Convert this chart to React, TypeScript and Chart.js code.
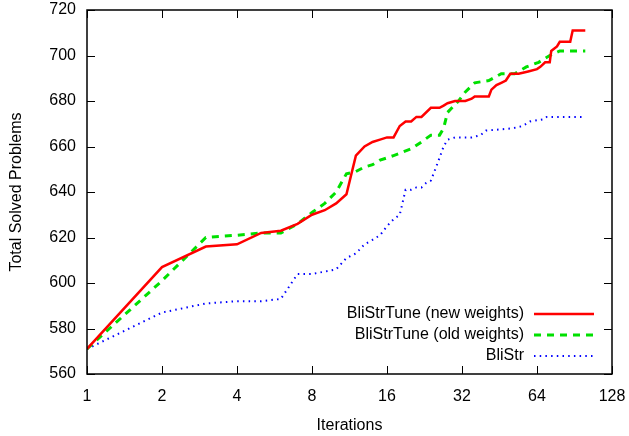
import React, { useEffect, useRef } from "react";
import { Chart, registerables } from "chart.js";

Chart.register(...registerables);

const xTickValues = [1, 2, 4, 8, 16, 32, 64, 128];
const yTickStep = 20;

const seriesNames = ["BliStrTune (new weights)", "BliStrTune (old weights)", "BliStr"];

const newX = [1, 2, 3, 4, 5, 6, 7, 8, 9, 10, 11, 12, 13, 14, 15, 16, 17, 18, 19, 20, 21, 22, 24, 26, 27, 28, 30, 33, 35, 36, 41, 42, 44, 46, 48, 50, 54, 59, 64, 66, 69, 72, 73, 77, 79, 87, 89, 100];
const newY = [571, 607, 616, 617, 622, 623, 626, 630, 632, 635, 639, 656, 660, 662, 663, 664, 664, 669, 671, 671, 673, 673, 677, 677, 678, 679, 680, 680, 681, 682, 682, 685, 687, 688, 689, 692, 692, 693, 694, 695, 697, 697, 702, 704, 706, 706, 711, 711];

const oldX = [1, 2, 3, 4, 5, 6, 7, 8, 9, 10, 11, 12, 13, 14, 15, 16, 17, 18, 20, 22, 24, 26, 27, 28, 31, 33, 36, 41, 46, 52, 58, 65, 72, 79, 100];
const oldY = [571, 601, 620, 621, 622, 622, 626, 631, 635, 640, 648, 649, 651, 652, 654, 655, 656, 657, 659, 662, 665, 665, 668, 675, 680, 684, 688, 689, 692, 692, 695, 697, 700, 702, 702];

const bliX = [1, 2, 3, 4, 5, 6, 7, 8, 9, 10, 11, 12, 13, 14, 15, 16, 17, 18, 19, 20, 21, 22, 23, 24, 25, 26, 27, 28, 30, 35, 38, 40, 51, 56, 60, 68, 70, 100];
const bliY = [571, 587, 591, 592, 592, 593, 604, 604, 605, 606, 611, 613, 617, 619, 621, 625, 628, 630, 641, 641, 642, 642, 644, 645, 650, 655, 660, 663, 664, 664, 665, 667, 668, 669, 671, 672, 673, 673];

const FONT = "'Liberation Sans', Arial, Helvetica, sans-serif";

function pts(xs: number[], ys: number[]) {
  return xs.map((x, i) => ({ x, y: ys[i] }));
}

const frameAndLegend = {
  id: "frameAndLegend",
  afterDraw(chart: any) {
    const { ctx, chartArea: a } = chart;
    const xs = chart.scales.x;
    const ys = chart.scales.y;
    ctx.save();
    ctx.strokeStyle = "#000";
    ctx.lineWidth = 1;
    const tl = 8;
    ctx.beginPath();
    xTickValues.forEach((v) => {
      const px = Math.round(xs.getPixelForValue(v)) + 0.5;
      ctx.moveTo(px, a.bottom);
      ctx.lineTo(px, a.bottom - tl);
      ctx.moveTo(px, a.top);
      ctx.lineTo(px, a.top + tl);
    });
    for (let v = ys.min; v <= ys.max; v += yTickStep) {
      const py = Math.round(ys.getPixelForValue(v)) + 0.5;
      ctx.moveTo(a.left, py);
      ctx.lineTo(a.left + tl, py);
      ctx.moveTo(a.right, py);
      ctx.lineTo(a.right - tl, py);
    }
    ctx.stroke();
    ctx.lineWidth = 1.5;
    ctx.strokeRect(a.left, a.top, a.right - a.left, a.bottom - a.top);

    // gnuplot-style key: text left, sample right
    const textRight = 524;
    const sx0 = 534;
    const sx1 = 594;
    const rowY = [314, 335, 356];
    ctx.font = `16px ${FONT}`;
    ctx.fillStyle = "#000";
    ctx.textAlign = "right";
    ctx.textBaseline = "middle";
    chart.data.datasets.forEach((ds: any, i: number) => {
      ctx.fillText(ds.label, textRight, rowY[i]);
      ctx.beginPath();
      ctx.strokeStyle = ds.borderColor;
      ctx.lineWidth = ds.borderWidth;
      ctx.setLineDash(ds.borderDash || []);
      ctx.moveTo(sx0, rowY[i]);
      ctx.lineTo(sx1, rowY[i]);
      ctx.stroke();
      ctx.setLineDash([]);
    });
    ctx.restore();
  },
};

export default function App() {
  const ref = useRef<HTMLCanvasElement | null>(null);
  useEffect(() => {
    if (!ref.current) return;
    const chart = new Chart(ref.current, {
      type: "line",
      data: {
        datasets: [
          {
            label: seriesNames[0],
            data: pts(newX, newY),
            borderColor: "#ff0000",
            borderWidth: 2.5,
            pointRadius: 0,
            tension: 0,
          },
          {
            label: seriesNames[1],
            data: pts(oldX, oldY),
            borderColor: "#00e000",
            borderWidth: 3,
            borderDash: [7, 6],
            pointRadius: 0,
            tension: 0,
          },
          {
            label: seriesNames[2],
            data: pts(bliX, bliY),
            borderColor: "#0000ff",
            borderWidth: 2,
            borderDash: [1.5, 4.2],
            pointRadius: 0,
            tension: 0,
          },
        ] as any,
      },
      options: {
        animation: false,
        responsive: false,
        layout: { padding: { top: 10, right: 17, left: 0, bottom: 0 } },
        plugins: { legend: { display: false }, tooltip: { enabled: false } },
        scales: {
          x: {
            type: "logarithmic",
            min: 1,
            max: 128,
            grid: { display: false, drawTicks: false },
            border: { display: false },
            afterBuildTicks: (scale: any) => {
              scale.ticks = xTickValues.map((v) => ({ value: v }));
            },
            afterFit: (scale: any) => {
              scale.height = 62;
              scale.paddingLeft = 0;
              scale.paddingRight = 0;
            },
            ticks: {
              color: "#000",
              font: { family: FONT, size: 16 },
              padding: 13,
              autoSkip: false,
              maxRotation: 0,
              callback: (v: any) => String(v),
            },
            title: {
              display: true,
              text: "Iterations",
              color: "#000",
              font: { family: FONT, size: 16 },
              padding: { top: 0, bottom: 1 },
            },
          },
          y: {
            type: "linear",
            min: 560,
            max: 720,
            grid: { display: false, drawTicks: false },
            border: { display: false },
            afterFit: (scale: any) => {
              scale.width = 87;
              scale.paddingTop = 0;
              scale.paddingBottom = 0;
            },
            ticks: {
              stepSize: yTickStep,
              color: "#000",
              font: { family: FONT, size: 16 },
              padding: 11,
            },
            title: {
              display: true,
              text: "Total Solved Problems",
              color: "#000",
              font: { family: FONT, size: 16 },
              padding: { top: 7, bottom: 0 },
            },
          },
        },
      } as any,
      plugins: [frameAndLegend],
    });
    return () => chart.destroy();
  }, []);
  return (
    <div style={{ position: "absolute", left: 0, top: 0, width: 629, height: 436, background: "#fff" }}>
      <canvas ref={ref} width={629} height={436} style={{ display: "block" }} />
    </div>
  );
}
